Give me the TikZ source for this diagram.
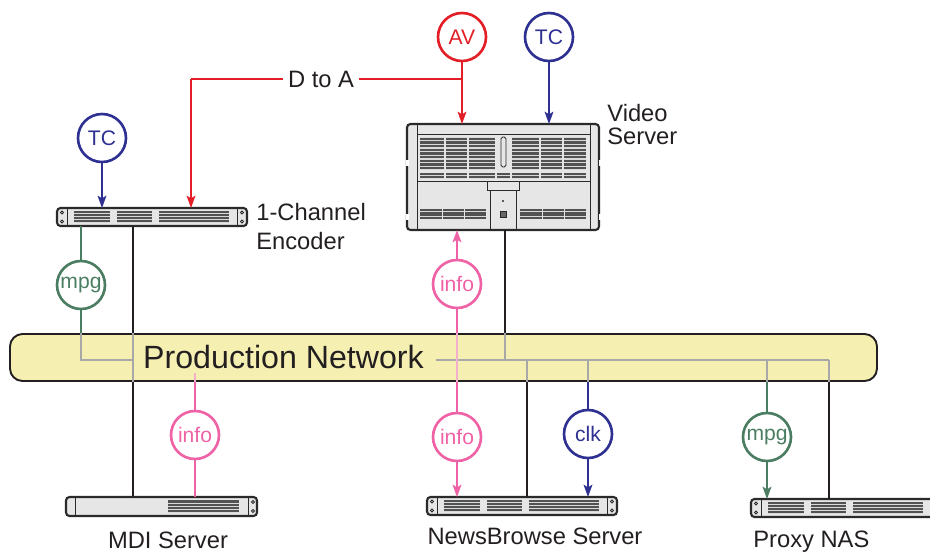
\documentclass[tikz,border=0pt]{standalone}
\usepackage{fontspec}
\setmainfont{Liberation Sans}
\usetikzlibrary{arrows.meta}

\definecolor{avred}{HTML}{E31E26}
\definecolor{tcblue}{HTML}{2E3192}
\definecolor{mpggreen}{HTML}{4B7D62}
\definecolor{infopink}{HTML}{EF62A6}
\definecolor{infofade}{HTML}{F4AFCF}
\definecolor{netyellow}{HTML}{F5F0B2}
\definecolor{busgray}{HTML}{A8A8A8}
\definecolor{wireblack}{HTML}{231F20}
\definecolor{devfill}{HTML}{E6E6E7}
\definecolor{devline}{HTML}{2A2A2A}

\newcommand{\px}{0.02cm}
\newcommand{\labelfont}{\fontsize{13.5}{16.5}\selectfont}
\newcommand{\circfont}{\fontsize{12}{14}\selectfont}
\newcommand{\netfont}{\fontsize{18.3}{22}\selectfont}

% one block of vent slats: x1, y1, x2, y2, number of slats
\newcommand{\slats}[5]{%
  \fill[slatbg] (#1,#2) rectangle (#3,#4);
  \pgfmathsetmacro{\slatpitch}{(#4-#2)/#5}
  \foreach \k in {1,...,#5}{
    \fill[slatfg] (#1,{#2+(\k-0.85)*\slatpitch}) rectangle (#3,{#2+(\k-0.2)*\slatpitch});
  }
}

% 1U front panel, three vent blocks
\newcommand{\rackfront}[1]{%
  \begin{scope}[shift={(#1.north west)}]
    \draw[earline] (10,0) -- (10,18) (180,0) -- (180,18);
    \foreach \hx in {5,185} \foreach \hy in {4.5,13.5}
      \draw[earline, fill=white] (\hx,\hy) circle (0.8pt);
    \slats{17}{3}{53}{15}{4}
    \slats{60}{3}{95}{15}{4}
    \slats{102}{3}{172}{15}{4}
  \end{scope}}

% 1U front panel, one vent block
\newcommand{\mdifront}[1]{%
  \begin{scope}[shift={(#1.north west)}]
    \draw[earline] (9,0) -- (9,19) (182,0) -- (182,19);
    \foreach \hy in {5,14}
      \draw[earline, fill=white] (187,\hy) circle (0.8pt);
    \slats{102}{3}{173}{16}{4}
  \end{scope}}

% large chassis front panel
\newcommand{\serverfront}[1]{%
  \begin{scope}[shift={(#1.north west)}]
    \draw[earline] (10,0) -- (10,106) (183,0) -- (183,106);
    \draw[earline] (10,10) -- (183,10) (10,57) -- (183,57);
    \foreach \ax/\bx in {13/37,39/60,62/88,105/132,134/155,157/179}
      \slats{\ax}{13}{\bx}{46}{9};
    \foreach \ax/\bx in {13/37,39/60,62/88,90/103,105/132,134/155,157/179}
      \slats{\ax}{49}{\bx}{55}{2};
    \draw[earline, fill=devfill, rounded corners=1pt] (94,13) rectangle (99,43);
    \draw[earline, fill=devfill] (80,57) rectangle (112,66);
    \draw[earline] (83,66) -- (83,106) (109,66) -- (109,106);
    \fill[devline] (96,77) circle (0.7pt);
    \draw[earline, fill=black!60] (93,87) rectangle (99,93);
    \foreach \ax/\bx in {13/35,36/57,58/79,113/135,136/157,158/179}
      \slats{\ax}{85}{\bx}{95}{4};
    % notches in the side rails
    \foreach \ny in {39,93} {
      \fill[white] (-1.5,\ny-3) rectangle (1.5,\ny+3);
      \fill[white] (191.5,\ny-3) rectangle (194.5,\ny+3);
    }
  \end{scope}}

\tikzset{
  slatbg/.style={fill=black!15},
  slatfg/.style={fill=black!68},
  earline/.style={draw=devline, line width=0.5pt},
  device/.style={draw=devline, fill=devfill, line width=1.2pt, rounded corners=2pt,
    inner sep=0pt, outer sep=0pt},
  rackunit/.style={device, minimum width=190*\px, minimum height=18*\px},
  rackmdi/.style={device, minimum width=191*\px, minimum height=19*\px},
  server/.style={device, minimum width=192*\px, minimum height=106*\px},
  netband/.style={draw=wireblack, fill=netyellow, line width=1.1pt, rounded corners=0.25cm,
    minimum width=867*\px, minimum height=47*\px, inner sep=0pt},
  sig/.style={circle, draw=#1, text=#1, fill=white, line width=1.5pt,
    minimum size=48*\px, inner sep=0pt, font=\circfont},
  devlabel/.style={font=\labelfont, text=wireblack, inner sep=0pt},
  wire/.style={draw=wireblack, line width=1pt},
  netwire/.style={draw=busgray, line width=1pt},
  avline/.style={draw=avred, line width=1pt},
  tcline/.style={draw=tcblue, line width=1pt},
  mpgline/.style={draw=mpggreen, line width=1pt},
  infoline/.style={draw=infopink, line width=1pt},
  infofaint/.style={draw=infofade, line width=1pt},
}

\begin{document}
\begin{tikzpicture}[x=\px, y=-\px, >={Stealth[length=7pt,width=5pt,inset=1.5pt]}]
\useasboundingbox (0,0) rectangle (930,552);

% network band
\node[netband] (net) at (443.5,357.5) {};

% equipment
\node[rackunit] (enc) at (152,217) {};
\node[server] (vs) at (503,177) {};
\node[rackmdi] (mdi) at (161.5,506.5) {};
\node[rackunit] (nb) at (522,506) {};
\node[rackunit] (nas) at (846,508) {};
\rackfront{enc}
\serverfront{vs}
\mdifront{mdi}
\rackfront{nb}
\rackfront{nas}

\node[devlabel, align=left, anchor=north west] (enclabel) at (256,203) {1-Channel\\Encoder};
\node[devlabel, align=left, anchor=north west, font=\fontsize{13.5}{13}\selectfont] (vslabel) at (607,104) {Video\\Server};
\node[devlabel, anchor=base] (mdilabel) at (168,548) {MDI Server};
\node[devlabel, anchor=base] (nblabel) at (535,544) {NewsBrowse Server};
\node[devlabel, anchor=base west] (naslabel) at (753,547) {Proxy NAS};

% signal circles
\node[sig=avred] (av) at (462,37) {AV};
\node[sig=tcblue] (tcvs) at (549,37) {TC};
\node[sig=tcblue] (tcenc) at (102,138) {TC};
\node[sig=mpggreen] (mpgenc) at (81,285) {mpg};
\node[sig=infopink] (infovs) at (457,284) {info};
\node[sig=infopink] (infomdi) at (195,435) {info};
\node[sig=infopink] (infonb) at (457,437) {info};
\node[sig=tcblue] (clk) at (588,434) {clk};
\node[sig=mpggreen] (mpgnas) at (767,437) {mpg};

% taps on the bus
\coordinate (tapmpgenc) at (81,360);
\coordinate (tapenc) at (133,360);
\coordinate (busgap) at (436,360);
\coordinate (tapvs) at (505,360);
\coordinate (tapnb) at (527,360);
\coordinate (tapclk) at (588,360);
\coordinate (tapmpg) at (767,360);
\coordinate (tapnas) at (829,360);
\coordinate (dabend) at (191,79);

% feeds from the top
\draw[avline,->] (av) -- (av |- vs.north);
\draw[tcline,->] (tcvs) -- (tcvs |- vs.north);
\draw[tcline,->] (tcenc) -- (tcenc |- enc.north);
\draw[avline] (av |- dabend) -- node[pos=0.52, devlabel, fill=white, inner xsep=3pt] (dtoa) {D to A} (dabend);
\draw[avline,->] (dabend) -- (dabend |- enc.north);

% encoder to network
\draw[mpgline] (mpgenc |- enc.south) -- (mpgenc);
\draw[mpgline] (mpgenc) -- (mpgenc |- net.north);
\draw[netwire] (mpgenc |- net.north) -- (tapmpgenc) -- (tapenc);
\draw[wire] (tapenc |- enc.south) -- (tapenc |- net.north);
\draw[netwire] (tapenc |- net.north) -- (tapenc |- net.south);
\draw[wire] (tapenc |- net.south) -- (tapenc |- mdi.north);

% video server to network
\draw[wire] (tapvs |- vs.south) -- (tapvs |- net.north);
\draw[netwire] (tapvs |- net.north) -- (tapvs);
\draw[netwire] (busgap) -- (tapnas);

% drops below the band
\draw[netwire] (tapnb) -- (tapnb |- net.south);
\draw[wire] (tapnb |- net.south) -- (tapnb |- nb.north);
\draw[netwire] (tapclk) -- (tapclk |- net.south);
\draw[tcline] (tapclk |- net.south) -- (clk);
\draw[tcline,->] (clk) -- (clk |- nb.north);
\draw[netwire] (tapmpg) -- (tapmpg |- net.south);
\draw[mpgline] (tapmpg |- net.south) -- (mpgnas);
\draw[mpgline,->] (mpgnas) -- (mpgnas |- nas.north);
\draw[netwire] (tapnas) -- (tapnas |- net.south);
\draw[wire] (tapnas |- net.south) -- (tapnas |- nas.north);

% info paths
\draw[infoline,->] (infonb) -- (infonb |- nb.north);
\draw[infoline] (infonb) -- (infonb |- net.south);
\draw[infofaint] (infonb |- net.south) -- (infovs |- net.north);
\draw[infoline] (infovs |- net.north) -- (infovs);
\draw[infoline,->] (infovs) -- (infovs |- vs.south);
\draw[infoline] (infomdi) -- (infomdi |- mdi.north);
\draw[infoline] (infomdi) -- (infomdi |- net.south);
\draw[infofaint] (infomdi |- net.south) -- ++(0,-9);

\node[devlabel, font=\netfont, anchor=base] (netname) at (283.5,368) {Production Network};

\end{tikzpicture}
\end{document}
